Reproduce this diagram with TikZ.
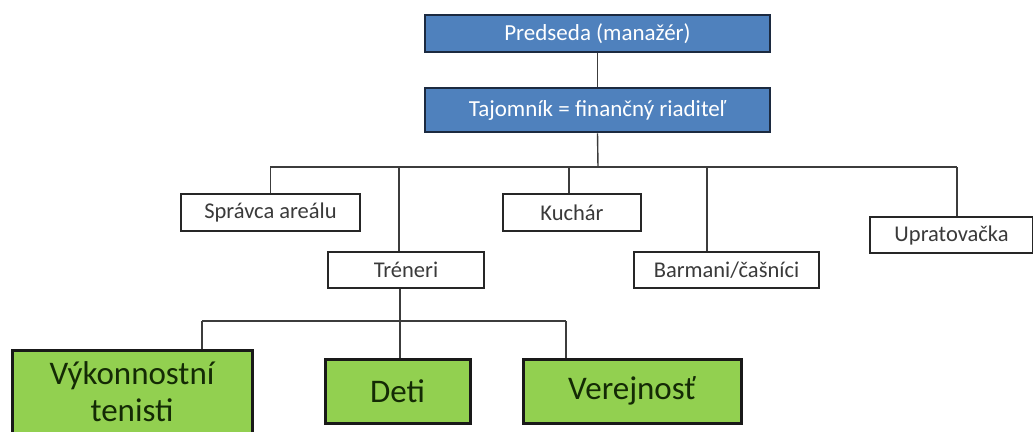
\documentclass[tikz,border=0pt]{standalone}
\usepackage{fontspec}
\setmainfont{Carlito}
\definecolor{boxblue}{HTML}{4F81BD}
\definecolor{boxblueline}{HTML}{1C2A40}
\definecolor{boxgreen}{HTML}{92D050}
\definecolor{txtgray}{HTML}{3A3A3A}
\definecolor{txtgreen}{HTML}{142A05}
\definecolor{linegray}{HTML}{3C3C3C}
\tikzset{
  bluebox/.style={draw=boxblueline, line width=2.6pt, fill=boxblue, text=white,
    inner sep=0pt, minimum width=345pt, font=\fontsize{23}{26}\selectfont},
  whitebox/.style={draw=black!85, line width=2.4pt, fill=white, text=txtgray,
    inner sep=0pt, minimum height=36pt, font=\fontsize{22.5}{26}\selectfont},
  greenbox/.style={draw=black!90, line width=3pt, fill=boxgreen, text=txtgreen,
    inner sep=0pt, align=center, font=\fontsize{33}{37}\selectfont},
  conn/.style={draw=linegray, line width=1.4pt}
}
\begin{document}
\begin{tikzpicture}[x=1pt,y=-1pt]
\useasboundingbox (0,0) rectangle (1033,431);
\fill[white] (0,0) rectangle (1033,431);
% top
\node[bluebox, minimum height=37pt] (pred) at (597.5,33.5) {Predseda (manažér)};
\node[bluebox, minimum height=44pt] (taj) at (597.5,110) {Tajomník = finančný riaditeľ};
% second level
\node[whitebox, minimum width=179pt, minimum height=37pt] (spr) at (270.5,212.5) {Správca areálu};
\node[whitebox, minimum width=156pt] (tre) at (406,270) {Tréneri};
\node[whitebox, minimum width=138pt, minimum height=37pt] (kuc) at (572,212.5) {Kuchár};
\node[whitebox, minimum width=185pt] (bar) at (726.5,270) {Barmani/čašníci};
\node[whitebox, minimum width=163pt] (upr) at (951.5,235) {Upratovačka};
% third level
\node[greenbox, minimum width=240pt, minimum height=84pt] (vyk) at (132,392) {Výkonnostní\\tenisti};
\node[greenbox, minimum width=145pt, minimum height=64pt] (det) at (397.5,391) {Deti};
\node[greenbox, minimum width=218pt, minimum height=64pt] (ver) at (632,391) {Verejnosť};
% coordinates of the buses
\coordinate (b1) at (598,167);
\coordinate (bl) at (270,167);
\coordinate (br) at (957,167);
\coordinate (c1) at (400,321);
\coordinate (cl) at (202,321);
\coordinate (cr) at (566,321);
% connectors
\draw[conn] (pred.south) -- (taj.north);
\draw[conn] (taj.south) -- (b1);
\draw[conn] (bl) -- (br);
\draw[conn] (spr.north) -- (spr.north |- bl);
\draw[conn] ([xshift=-7pt]tre.north) -- ([xshift=-7pt]tre.north |- bl);
\draw[conn] ([xshift=-3pt]kuc.north) -- ([xshift=-3pt]kuc.north |- bl);
\draw[conn] ([xshift=-19.5pt]bar.north) -- ([xshift=-19.5pt]bar.north |- bl);
\draw[conn] ([xshift=5.5pt]upr.north) -- (br);
\draw[conn] ([xshift=-6pt]tre.south) -- (c1);
\draw[conn] (cl) -- (cr);
\draw[conn] ([xshift=70pt]vyk.north) -- (cl);
\draw[conn] ([xshift=2.5pt]det.north) -- (c1);
\draw[conn] ([xshift=-66pt]ver.north) -- (cr);
\end{tikzpicture}
\end{document}
